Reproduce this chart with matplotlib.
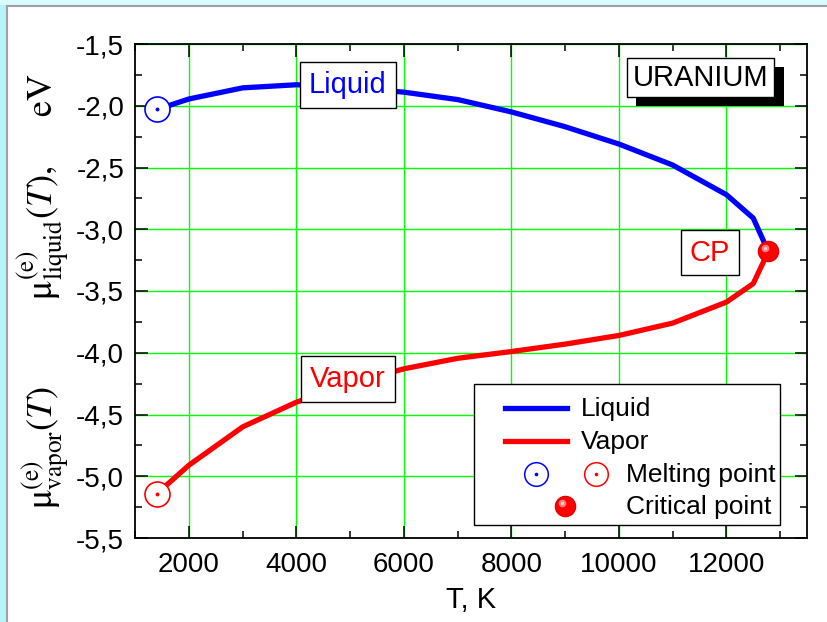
import matplotlib
matplotlib.use("Agg")
import matplotlib.pyplot as plt
from matplotlib.patches import Rectangle
from matplotlib.ticker import MultipleLocator, FuncFormatter
import matplotlib.transforms as mtransforms

plt.rcParams['font.family'] = ['Liberation Sans', 'DejaVu Sans']
plt.rcParams['mathtext.fontset'] = 'stix'

# data
T_liquid = [1405, 2000, 3000, 4000, 5000, 6000, 7000, 8000, 9000, 10000, 11000, 12000, 12500, 12780]
mu_liquid = [-2.03, -1.945, -1.855, -1.83, -1.85, -1.89, -1.95, -2.05, -2.17, -2.31, -2.48, -2.72, -2.91, -3.18]
T_vapor = [1405, 2000, 3000, 4000, 5000, 6000, 7000, 8000, 9000, 10000, 11000, 12000, 12500, 12780]
mu_vapor = [-5.14, -4.91, -4.60, -4.40, -4.25, -4.13, -4.045, -3.99, -3.93, -3.86, -3.76, -3.59, -3.44, -3.18]
T_melt = 1405
T_crit = 12780
mu_crit = -3.18

fig = plt.figure(figsize=(8.28, 6.22), dpi=100)
fig.patch.set_facecolor('white')
# light cyan frame on the left and top
fig.patches.append(Rectangle((0, 0), 7 / 828, 1, transform=fig.transFigure,
                             facecolor='#b8f3f7', edgecolor='none', zorder=0))
fig.patches.append(Rectangle((0, 1 - 5 / 622), 1, 5 / 622, transform=fig.transFigure,
                             facecolor='#d8fbfd', edgecolor='none', zorder=0))
fig.lines.append(plt.Line2D([7.5 / 828, 7.5 / 828], [0, 1 - 5.5 / 622], transform=fig.transFigure,
                            color='#a0a0a0', lw=1.5))
fig.lines.append(plt.Line2D([7.5 / 828, 1], [1 - 5.5 / 622, 1 - 5.5 / 622], transform=fig.transFigure,
                            color='#a0a0a0', lw=1.5))

L, R, TOP, BOT = 135.25, 807, 44, 538
ax = fig.add_axes([L / 828, 1 - BOT / 622, (R - L) / 828, (BOT - TOP) / 622])


def axc(px, py):
    return ((px - L) / (R - L), (BOT - py) / (BOT - TOP))


ax.plot(T_liquid, mu_liquid, color='#0000ff', lw=3.8, solid_capstyle='butt', zorder=3)
ax.plot(T_vapor, mu_vapor, color='#ff0000', lw=3.8, solid_capstyle='butt', zorder=3)

# melting points
ax.plot(T_melt, mu_liquid[0], 'o', ms=18, mfc='white', mec='#0000ff', mew=1.2, zorder=4)
ax.plot(T_melt, mu_liquid[0], 'o', ms=1.8, color='#0000ff', zorder=5)
ax.plot(T_melt, mu_vapor[0], 'o', ms=18, mfc='white', mec='#ff0000', mew=1.2, zorder=4)
ax.plot(T_melt, mu_vapor[0], 'o', ms=1.8, color='#ff0000', zorder=5)

# critical point, shaded sphere
ax.plot(T_crit, mu_crit, 'o', ms=14.5, color='#ff0000', mec='#e80000', zorder=5)
hl = mtransforms.offset_copy(ax.transData, fig=fig, x=-3, y=3, units='dots')
ax.plot(T_crit, mu_crit, 'o', ms=5.5, color='#ff8080', mec='none', transform=hl, zorder=6)
ax.plot(T_crit, mu_crit, 'o', ms=2.2, color='#ffd0d0', mec='none', transform=hl, zorder=7)

ax.set_xlim(1000, 13500)
ax.set_ylim(-5.5, -1.5)
ax.xaxis.set_major_locator(MultipleLocator(2000))
ax.xaxis.set_minor_locator(MultipleLocator(1000))
ax.yaxis.set_major_locator(MultipleLocator(0.5))
ax.yaxis.set_minor_locator(MultipleLocator(0.25))
ax.yaxis.set_major_formatter(FuncFormatter(lambda v, p: f"{v:.1f}".replace('.', ',')))
ax.tick_params(which='both', direction='in', top=True, right=True, labelsize=20, width=1.1)
ax.tick_params(which='major', length=9, pad=8)
ax.tick_params(which='minor', length=5)
ax.tick_params(axis='x', which='major', pad=10)
ax.grid(True, which='major', color='#00ff00', lw=1.0)
for s in ax.spines.values():
    s.set_linewidth(1.3)

ax.set_xlabel('T, K', fontsize=21, labelpad=6)
ax.set_ylabel(r'$\mathrm{μ}^{\mathrm{(e)}}_{\mathrm{vapor}}(T)\quad\quad\quad\ \mathrm{μ}^{\mathrm{(e)}}_{\mathrm{liquid}}(T),\quad\ \ \mathrm{eV}$',
              fontsize=26, labelpad=4)

box = dict(boxstyle='square,pad=0.3', facecolor='white', edgecolor='black', lw=1.0)
ax.text(4958, -1.832, 'Liquid', color='#0000ff', fontsize=21, ha='center', va='center', bbox=box, zorder=6)
ax.text(4958, -4.213, 'Vapor', color='#ff0000', fontsize=21, ha='center', va='center', bbox=box, zorder=6)
ax.text(11689, -3.19, 'CP', color='#ff0000', fontsize=21, ha='center', va='center', bbox=box, zorder=6)

# URANIUM tag with black shadow
ax.add_patch(Rectangle(axc(636, 105.7), (784 - 636) / (R - L), (105.7 - 66.7) / (BOT - TOP),
                       transform=ax.transAxes, facecolor='black', edgecolor='none', zorder=6))
ax.add_patch(Rectangle(axc(626.7, 96.7), (774.3 - 626.7) / (R - L), (96.7 - 58.3) / (BOT - TOP),
                       transform=ax.transAxes, facecolor='white', edgecolor='black', lw=1.0, zorder=7))
ax.text(*axc(700.5, 78), 'URANIUM', transform=ax.transAxes, fontsize=21, ha='center', va='center', zorder=8)

# legend drawn by hand
ax.add_patch(Rectangle(axc(474.3, 525), (780 - 474.3) / (R - L), (525 - 384) / (BOT - TOP),
                       transform=ax.transAxes, facecolor='white', edgecolor='black', lw=1.0, zorder=8))
for yy, c, name in [(408.3, '#0000ff', 'Liquid'), (440.7, '#ff0000', 'Vapor')]:
    x0, y0 = axc(505, yy)
    x1, _ = axc(566.7, yy)
    ax.plot([x0, x1], [y0, y0], color=c, lw=3.8, transform=ax.transAxes, zorder=9)
    ax.text(*axc(581, yy + 1), name, transform=ax.transAxes, fontsize=19, va='center', zorder=9)
for xx, c in [(535.7, '#0000ff'), (595.7, '#ff0000')]:
    ax.plot(*axc(xx, 474), 'o', ms=17, mfc='white', mec=c, mew=1.1, transform=ax.transAxes, zorder=9)
    ax.plot(*axc(xx, 474), 'o', ms=1.6, color=c, transform=ax.transAxes, zorder=10)
ax.text(*axc(625.7, 475), 'Melting point', transform=ax.transAxes, fontsize=19, va='center', zorder=9)
ax.plot(*axc(565, 506), 'o', ms=14.5, color='#ff0000', mec='#e80000', transform=ax.transAxes, zorder=9)
ax.plot(*axc(562, 503), 'o', ms=5.5, color='#ff8080', mec='none', transform=ax.transAxes, zorder=10)
ax.plot(*axc(562, 503), 'o', ms=2.2, color='#ffd0d0', mec='none', transform=ax.transAxes, zorder=11)
ax.text(*axc(625.7, 507), 'Critical point', transform=ax.transAxes, fontsize=19, va='center', zorder=9)

fig.savefig('out.png', dpi=100)
